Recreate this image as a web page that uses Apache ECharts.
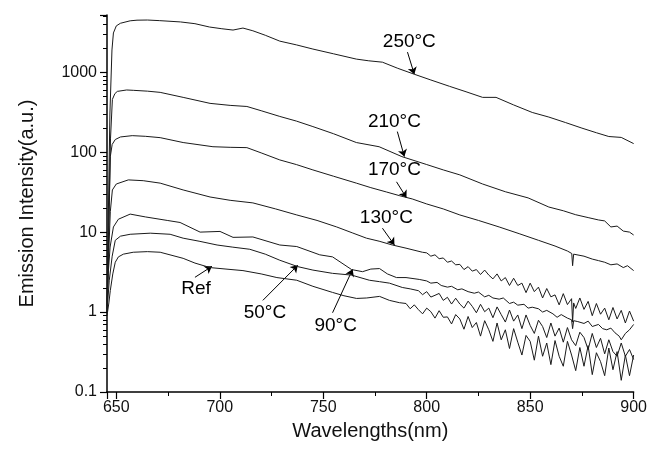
<!DOCTYPE html>
<html>
<head>
<meta charset="utf-8">
<script src="https://cdn.jsdelivr.net/npm/echarts@6/dist/echarts.min.js"></script>
<style>
  html, body { margin: 0; padding: 0; background: #fff; }
  #chart { width: 650px; height: 455px; }
</style>
</head>
<body>
<div id="chart"></div>
<script>
// emission spectra, [wavelength nm, intensity a.u.]
const t250 = [[645.5,1.2],[646.2,20],[646.9,300],[647.9,1900],[648.6,3100],[650,3800],[652,4100],[656.7,4400],[660,4480],[665,4500],[671,4420],[681,4260],[688,4050],[695,3680],[701,3500],[706.4,3370],[711.2,3570],[716,3300],[722,2900],[729,2450],[737,2200],[745,1950],[755,1700],[766,1460],[772,1390],[778.6,1336],[786,1120],[794,944],[802,800],[811,667],[819,570],[827,485],[833.5,485],[842,390],[851,314],[859,275],[867,235],[875,200],[882,175],[888,157],[894,153],[900,128]];

const t210 = [[645.5,1.1],[646.4,12],[647.2,150],[648.1,457],[649.3,540],[650.5,576],[655,600],[658.2,594],[665,580],[671.2,560],[682.3,485],[695.3,408],[705,385],[713.1,373],[720,330],[729,280],[737,245],[745,209],[755,170],[766,132],[777,117],[788,88],[800,70],[808,60],[816,52],[827,40],[838,32],[849,26.8],[859,20.6],[866,18.5],[872,16.5],[878,15.2],[883,14.2],[886,13.8],[889,11.6],[892,11.9],[895,10.3],[898,10.0],[900,9.2]];

const t170 = [[645.5,1.1],[646.3,10],[647.1,88],[648,125],[649.5,144],[652,155],[657.7,161],[664,158],[671.2,152],[682.3,132],[696.7,117],[705,115],[713.1,114],[720,98],[729,80],[737,70],[745,60],[755,50],[766,41],[773,36],[780.5,31.8],[787,28.5],[793,26],[800,22.5],[808,19.5],[816,16.4],[825,14],[835,11.6],[845,9.5],[854,7.9],[862,6.7],[868,5.8],[870.1,5.4],[870.5,3.8],[871,5.3],[876,5.0],[880,4.6],[883,4.4],[886,4.2],[889,3.9],[892,4.0],[895,3.6],[897,3.8],[900,3.3]];

const t130 = [[645.5,1.0],[646.3,5],[647.1,18],[648.1,33.7],[650,40],[655.8,45],[663,44],[671.2,41],[682.3,33.7],[695.3,27.5],[705,25],[716,23.2],[727,19.5],[737.2,16.4],[747,14],[756.5,11.6],[764,9.8],[770.9,8.4],[777,7.7],[783.4,6.9],[790,6.3],[797.9,5.6],[800,5.5],[802,5.0],[804,5.2],[806,4.65],[808,4.75],[810,4.2],[812,4.35],[814,3.9],[816,3.95],[818,3.4],[820,3.7],[822,3.25],[824,3.4],[826,2.95],[828,3.35],[830,2.9],[832,2.6],[834,3.0],[836,2.45],[838,2.7],[840,2.15],[842,2.65],[844,2.15],[846,2.3],[848,1.75],[850,2.3],[852,1.8],[854,2.05],[856,1.5],[858,1.97],[860,1.55],[862,1.64],[864,1.23],[866,1.7],[868,1.24],[870,1.47],[870.5,0.75],[871,1.3],[872,1.11],[874,1.5],[876,1.08],[878,1.36],[880,0.9],[882,1.28],[884,0.94],[886,1.12],[888,0.8],[890,1.14],[892,0.82],[894,1.05],[896,0.73],[898,1.03],[900,0.77]];

const t90 = [[645.5,1.0],[646.1,3.05],[647,6.5],[648.6,11.6],[651,14.5],[656.7,16.8],[664,15.5],[674.6,14],[680.8,13.2],[690.5,10.0],[700.1,10.2],[706.4,8.6],[716,8.7],[729,6.9],[737.2,6.6],[748.3,5.2],[754.5,4.9],[763.7,3.4],[769,3.2],[773,3.45],[777.2,3.5],[781,3.0],[785.4,2.7],[790,2.7],[796.4,2.56],[800,2.45],[802,2.3],[805,2.35],[807,2.15],[810,2.05],[812,2.1],[815,1.9],[817,1.95],[820,1.8],[823,1.72],[825,1.78],[828,1.55],[830,1.62],[832,1.5],[835,1.45],[837,1.5],[840,1.28],[842,1.33],[844,1.22],[847,1.25],[849,1.12],[851,1.15],[854,1.1],[856,1.0],[858,1.05],[861,0.95],[863,0.86],[865,0.93],[868,0.84],[870,0.8],[870.5,0.62],[871,0.78],[873,0.76],[876,0.72],[878,0.77],[880,0.66],[883,0.7],[885,0.62],[887,0.6],[889,0.63],[891,0.55],[893,0.5],[894,0.45],[896,0.54],[898,0.6],[900,0.7]];

const t50 = [[645.5,1.0],[646.6,2.5],[648,5],[649.5,7.9],[652,8.9],[656.7,9.4],[666.4,9.7],[676,9.4],[682.3,8.4],[690,7.7],[698.7,6.9],[706,6.5],[714.5,6.1],[722,5.3],[729,4.45],[737.7,3.7],[745,3.35],[754.5,3.05],[763.7,2.9],[772.3,2.5],[777.2,2.4],[782,2.3],[788.2,2.03],[792,1.95],[796,1.85],[798,1.65],[800,1.8],[802,1.54],[804,1.62],[806,1.71],[808,1.4],[810,1.53],[812,1.26],[814,1.49],[816,1.26],[818,1.12],[820,1.37],[822,1.18],[824,0.98],[826,1.25],[828,1.01],[830,1.12],[832,0.85],[834,1.16],[836,0.93],[838,0.75],[840,1.06],[842,0.77],[844,0.92],[846,0.62],[848,0.92],[850,0.68],[852,0.54],[854,0.79],[856,0.66],[858,0.48],[860,0.73],[862,0.5],[864,0.63],[866,0.42],[868,0.64],[870,0.45],[872,0.38],[874,0.56],[876,0.48],[878,0.34],[880,0.54],[882,0.36],[884,0.47],[886,0.3],[888,0.45],[890,0.32],[892,0.28],[894,0.41],[896,0.28],[898,0.34],[900,0.255]];

const tRef = [[645.5,0.9],[646.4,1.3],[647.1,1.86],[648.3,3.0],[649.5,4.2],[651,4.9],[653.4,5.3],[658.2,5.6],[665,5.7],[671.2,5.6],[682.3,4.7],[688,4.1],[695.3,3.6],[703,3.45],[711.2,3.3],[720,3.0],[727.6,2.7],[737.2,2.5],[745,2.1],[754.5,1.76],[760,1.6],[766.1,1.48],[771,1.5],[777.2,1.57],[782,1.4],[786.8,1.31],[790,1.28],[792,1.1],[794,1.23],[796,1.07],[798,0.95],[800,1.12],[802,1.01],[804,0.84],[806,1.04],[808,0.86],[810,0.87],[812,0.71],[814,0.93],[816,0.82],[818,0.61],[820,0.88],[822,0.64],[824,0.74],[826,0.5],[828,0.78],[830,0.6],[832,0.43],[834,0.73],[836,0.45],[838,0.6],[840,0.35],[842,0.62],[844,0.42],[846,0.29],[848,0.51],[850,0.43],[852,0.25],[854,0.5],[856,0.28],[858,0.41],[860,0.22],[862,0.44],[864,0.28],[866,0.21],[868,0.43],[870,0.29],[872,0.185],[874,0.36],[876,0.21],[878,0.38],[880,0.165],[882,0.31],[884,0.24],[886,0.16],[888,0.355],[890,0.19],[892,0.32],[894,0.14],[896,0.29],[898,0.16],[900,0.29]];

const curves = [t250, t210, t170, t130, t90, t50, tRef];
const labelNames = ['250°C', '210°C', '170°C', '130°C', '90°C', '50°C', 'Ref'];
// label centres and arrows, in data units
const labelPos = [[791.6,2380],[784.4,242],[784.4,60],[780.5,15],[756,0.68],[721.8,0.99],[688.5,1.98]];
const arrowTail = [[790.7,1786],[785.8,181],[785.4,42.6],[778.6,11.2],[754.5,0.98],[720.8,1.40],[688,2.72]];
const arrowHead = [[794,944],[789.2,88],[790.2,27],[784.4,6.9],[764.2,3.43],[737.7,3.85],[696.2,3.73]];

const font = 'Liberation Sans, Arial, sans-serif';
const chart = echarts.init(document.getElementById('chart'), null, { renderer: 'canvas' });

const lineSeries = curves.map((d, i) => ({
  name: labelNames[i],
  type: 'line',
  data: d,
  showSymbol: false,
  symbol: 'none',
  silent: true,
  lineStyle: { color: '#1a1a1a', width: 1 }
}));

chart.setOption({
  animation: false,
  backgroundColor: '#fff',
  grid: { left: 107, right: 14, top: 15, bottom: 63 },
  xAxis: {
    type: 'value',
    min: 645.5,
    max: 900,
    splitNumber: 5,
    name: 'Wavelengths(nm)',
    nameLocation: 'middle',
    nameGap: 29,
    nameTextStyle: { fontFamily: font, fontSize: 20, color: '#111' },
    axisLine: { lineStyle: { color: '#000', width: 1.5 } },
    axisTick: { length: 7, lineStyle: { color: '#000', width: 1.2 } },
    minorTick: { show: true, splitNumber: 2, length: 4, lineStyle: { color: '#000' } },
    axisLabel: { showMinLabel: false, fontFamily: font, fontSize: 16, color: '#111', margin: 8 },
    splitLine: { show: false }
  },
  yAxis: {
    type: 'log',
    logBase: 10,
    min: 0.1,
    max: 5200,
    name: 'Emission Intensity(a.u.)',
    nameLocation: 'middle',
    nameGap: 70,
    nameTextStyle: { fontFamily: font, fontSize: 20, color: '#111' },
    axisLine: { show: true, lineStyle: { color: '#000', width: 1.5 } },
    axisTick: { show: true, length: 7, lineStyle: { color: '#000', width: 1.2 } },
    minorTick: { show: true, splitNumber: 9, length: 4, lineStyle: { color: '#000' } },
    axisLabel: {
      showMaxLabel: false,
      fontFamily: font, fontSize: 16, color: '#111', margin: 10,
      formatter: v => String(+Number(v).toPrecision(3))
    },
    splitLine: { show: false }
  },
  series: lineSeries.concat([
    {
      type: 'scatter',
      data: labelPos,
      symbolSize: 0,
      silent: true,
      itemStyle: { opacity: 1 },
      label: {
        show: true,
        position: 'inside',
        formatter: p => labelNames[p.dataIndex],
        fontFamily: font, fontSize: 19, color: '#000', opacity: 1
      }
    },
    {
      type: 'lines',
      coordinateSystem: 'cartesian2d',
      silent: true,
      symbol: ['none', 'arrow'],
      symbolSize: 7,
      lineStyle: { color: '#000', width: 1, opacity: 1 },
      data: arrowTail.map((a, i) => ({ coords: [a, arrowHead[i]] }))
    }
  ])
});
</script>
</body>
</html>
